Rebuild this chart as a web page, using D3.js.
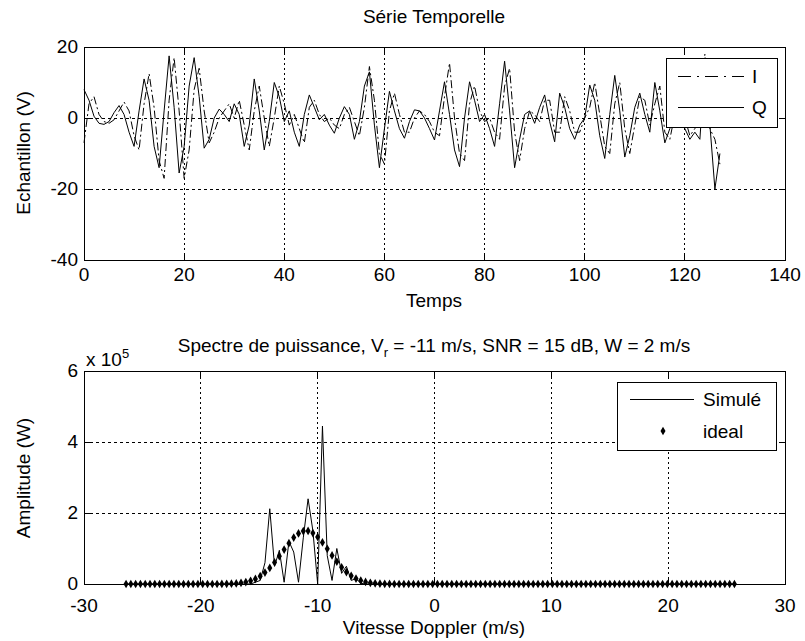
<!DOCTYPE html>
<html><head><meta charset="utf-8">
<script src="https://cdn.jsdelivr.net/npm/d3@7"></script>
<style>
body{margin:0;background:#fff}
text{font-family:"Liberation Sans",Arial,sans-serif;font-size:19px;fill:#000}
</style>
</head><body>
<svg id="c" width="805" height="641"></svg>
<script>
// ---- Data ----
const seriesQ = [8,5,0.5,-1.5,-1.8,-1,1.5,3.5,1,-4,
-8,2,11,5,-8,-14,2,17.5,3,-15.5,
-8,9,17,6,-8.5,-6,0,2.5,1,-1,
4,1,-8,-2,11,2,-9,-1,10,6,
-1,2,-4,-8,1,6.5,3,-0.5,1,-2,
-4.3,0,3.2,1,-6,-1,9,13,-2,-14,
-3,7.5,2,-3,-5.7,-1,2.3,2,0,-3,
-6.2,2,10.2,1,-9,-13.7,0,10.2,5,-1,
1,-3,-8,4,16,2,-14,-6,1,2,
-1.5,3,6.5,-1,-6.7,7,3,-3,-6,-2,
0,9.3,5,-5,-11.4,1,12,2,-11,-5,
3,7,1,-4,10,2,-7,-3,4,2,
-3,-6,-4,-6,15,-2,-20,-10];
const seriesI = [-7,4,6,1,-1,-1.5,-0.5,2,4.5,2,
-5,-9,4,12.5,3,-12,-17,5,17,2,
-17,-9,8,14,2,-7,-4,0,2,4,
0,5,-2,-9,2,9,0,-8,0,9,
4,-2,1,-3,-7,3,5,1,-1,0,
-2,-3,1,3,-1,-5,3,14.5,5,-10,
-13,2,7,1,-4,-4,0,2,1,-1,
-4,-5,6,15.5,0,-10,-12,4,9,2,
-1,0,-4,-6,9,14,-4,-12,-3,2,
1,-1,5,5,-4,-4,6,2,-4,-4,
0,3,10,1,-8,-10,4,10,-3,-10,
-2,6,5,-2,4,9,-4,-6,1,5,
0,-5,-3,2,18,-3,-6,-13];
const timeTicks = [0,20,40,60,80,100,120,140];
const ampTicks = [-40,-20,0,20];

// spectrum (x 1e5 W), 128 Doppler bins
const velocityStart = -26.4, velocityStep = 0.41;
const simulated = [0,0,0,0,0,0,0,0,0,0,
0,0,0,0,0,0,0,0,0,0,
0,0,0,0,0,0,0,0.05,0.1,0.6,
2.12,0.5,0.95,0.05,1.2,0.9,0.05,1.3,2.4,1.5,
0,4.45,0.8,0.1,1.0,0.3,0.5,0.1,0.15,0.02,
0,0,0,0,0,0,0,0,0,0,
0,0,0,0,0,0,0,0,0,0,
0,0,0,0,0,0,0,0,0,0,
0,0,0,0,0,0,0,0,0,0,
0,0,0,0,0,0,0,0,0,0,
0,0,0,0,0,0,0,0,0,0,
0,0,0,0,0,0,0,0,0,0,
0,0,0,0,0,0,0,0];
const ideal = [0,0,0,0,0,0,0,0,0,0,
0,0,0,0,0,0,0,0,0,0,
0.002,0.005,0.009,0.017,0.032,0.055,0.090,0.144,0.220,0.322,
0.451,0.607,0.783,0.969,1.149,1.307,1.425,1.490,1.494,1.436,
1.324,1.170,0.992,0.806,0.628,0.469,0.336,0.231,0.152,0.096,
0.058,0.034,0.019,0.010,0.005,0.002,0,0,0,0,
0,0,0,0,0,0,0,0,0,0,
0,0,0,0,0,0,0,0,0,0,
0,0,0,0,0,0,0,0,0,0,
0,0,0,0,0,0,0,0,0,0,
0,0,0,0,0,0,0,0,0,0,
0,0,0,0,0,0,0,0,0,0,
0,0,0,0,0,0,0,0];
const velTicks = [-30,-20,-10,0,10,20,30];
const powTicks = [0,2,4,6];

// ---- Drawing ----
const svg = d3.select("#c");
const L = 84, R = 785;

function panel(x, y, xt, yt, x0, y0){
  const g = svg.append("g");
  xt.forEach(t=>{ if(x(t)>x0[0]+1 && x(t)<x0[1]-1) g.append("line").attr("x1",x(t)).attr("x2",x(t)).attr("y1",y0[0]).attr("y2",y0[1]).attr("stroke","#000").attr("stroke-dasharray","2,3").attr("shape-rendering","crispEdges"); });
  yt.forEach(t=>{ if(y(t)<y0[0]-1 && y(t)>y0[1]+1) g.append("line").attr("x1",x0[0]).attr("x2",x0[1]).attr("y1",y(t)).attr("y2",y(t)).attr("stroke","#000").attr("stroke-dasharray","3,3").attr("shape-rendering","crispEdges"); });
  return g;
}
function frame(g, x, y, xt, yt, x0, y0, lblDy){
  const tl = 6;
  const f = g.append("g").attr("shape-rendering","crispEdges").attr("stroke","#000").attr("fill","none");
  f.append("rect").attr("x",x0[0]).attr("y",y0[1]).attr("width",x0[1]-x0[0]).attr("height",y0[0]-y0[1]);
  xt.forEach(t=>{
    f.append("line").attr("x1",x(t)).attr("x2",x(t)).attr("y1",y0[0]).attr("y2",y0[0]-tl);
    f.append("line").attr("x1",x(t)).attr("x2",x(t)).attr("y1",y0[1]).attr("y2",y0[1]+tl);
  });
  yt.forEach(t=>{
    f.append("line").attr("x1",x0[0]).attr("x2",x0[0]+tl).attr("y1",y(t)).attr("y2",y(t));
    f.append("line").attr("x1",x0[1]).attr("x2",x0[1]-tl).attr("y1",y(t)).attr("y2",y(t));
  });
  xt.forEach(t=> g.append("text").attr("x",x(t)).attr("y",y0[0]+lblDy).attr("text-anchor","middle").text(t));
  yt.forEach(t=> g.append("text").attr("x",x0[0]-6).attr("y",y(t)+6).attr("text-anchor","end").text(t));
}

// Top panel
const xT = d3.scaleLinear().domain([0,140]).range([L,R]);
const yT = d3.scaleLinear().domain([-40,20]).range([260,47]);
const gT = panel(xT,yT,timeTicks,ampTicks,[L,R],[260,47]);
const lineT = d3.line().x((d,i)=>xT(i)).y(d=>yT(d));
gT.append("path").attr("d",lineT(seriesI)).attr("fill","none").attr("stroke","#000").attr("stroke-width",1).attr("stroke-dasharray","8,3,2,3");
gT.append("path").attr("d",lineT(seriesQ)).attr("fill","none").attr("stroke","#000").attr("stroke-width",1);
frame(gT,xT,yT,timeTicks,ampTicks,[L,R],[260,47],21);
svg.append("text").attr("x",434).attr("y",23).attr("text-anchor","middle").text("Série Temporelle");
svg.append("text").attr("x",434).attr("y",307).attr("text-anchor","middle").text("Temps");
svg.append("text").attr("transform","translate(30,153) rotate(-90)").attr("text-anchor","middle").text("Echantillon (V)");

// top legend
const lg = svg.append("g");
lg.append("rect").attr("x",666).attr("y",58).attr("width",111).attr("height",69).attr("fill","#fff").attr("stroke","#000").attr("shape-rendering","crispEdges");
lg.append("line").attr("x1",678).attr("x2",744).attr("y1",76.5).attr("y2",76.5).attr("stroke","#000").attr("stroke-dasharray","13,6,2,6");
lg.append("line").attr("x1",678).attr("x2",744).attr("y1",107.5).attr("y2",107.5).attr("stroke","#000");
lg.append("text").attr("x",752).attr("y",83).text("I");
lg.append("text").attr("x",752).attr("y",114).text("Q");

// Bottom panel
const xS = d3.scaleLinear().domain([-30,30]).range([L,R]);
const yS = d3.scaleLinear().domain([0,6]).range([584,371]);
const gS = panel(xS,yS,velTicks,powTicks,[L,R],[584,371]);
const vel = simulated.map((d,k)=>velocityStart+k*velocityStep);
const lineS = d3.line().x((d,k)=>xS(vel[k])).y(d=>yS(d));
gS.append("path").attr("d",lineS(simulated)).attr("fill","none").attr("stroke","#000").attr("stroke-width",1);
const diamond = d3.symbol().type(d3.symbolDiamond).size(22);
gS.selectAll("path.dot").data(ideal).join("path").attr("class","dot")
  .attr("d",diamond).attr("transform",(d,k)=>`translate(${xS(vel[k])},${yS(d)})`).attr("fill","#000");
frame(gS,xS,yS,velTicks,powTicks,[L,R],[584,371],28);
const tt = svg.append("text").attr("x",434).attr("y",352).attr("text-anchor","middle");
tt.append("tspan").text("Spectre de puissance, V");
tt.append("tspan").attr("dy",5).attr("font-size","13px").text("r");
tt.append("tspan").attr("dy",-5).text(" = -11 m/s, SNR = 15 dB, W = 2 m/s");
const ex = svg.append("text").attr("x",86).attr("y",366);
ex.append("tspan").text("x 10");
ex.append("tspan").attr("dy",-8).attr("font-size","13px").text("5");
svg.append("text").attr("x",434).attr("y",634).attr("text-anchor","middle").text("Vitesse Doppler (m/s)");
svg.append("text").attr("transform","translate(30,478) rotate(-90)").attr("text-anchor","middle").text("Amplitude (W)");

// bottom legend
const lb = svg.append("g");
lb.append("rect").attr("x",617).attr("y",382).attr("width",159).attr("height",68).attr("fill","#fff").attr("stroke","#000").attr("shape-rendering","crispEdges");
lb.append("line").attr("x1",630).attr("x2",694).attr("y1",399.5).attr("y2",399.5).attr("stroke","#000");
lb.append("path").attr("d",diamond).attr("transform","translate(663,431)").attr("fill","#000");
lb.append("text").attr("x",703).attr("y",406).text("Simulé");
lb.append("text").attr("x",703).attr("y",438).text("ideal");
</script>
</body></html>
